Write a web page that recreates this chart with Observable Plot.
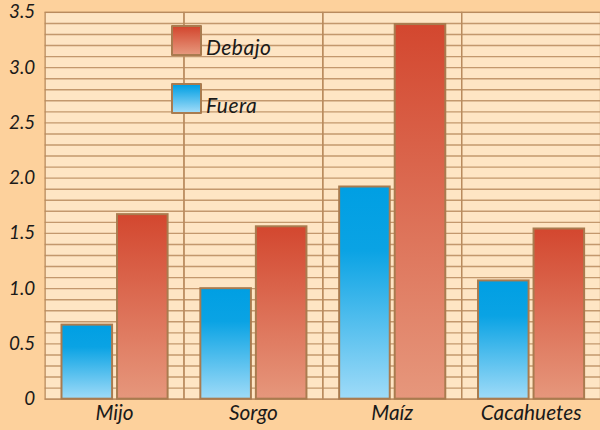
<!DOCTYPE html>
<html>
<head>
<meta charset="utf-8">
<script src="https://cdn.jsdelivr.net/npm/d3@7"></script>
<script src="https://cdn.jsdelivr.net/npm/@observablehq/plot@0.6"></script>
<style>
  html, body { margin: 0; padding: 0; background: #fdd19c; overflow: hidden; width: 600px; height: 430px; }
  #wrap { position: relative; width: 600px; height: 430px; overflow: hidden; }
  #chart svg { display: block; }
  .sw { position: absolute; left: 171px; width: 27px; height: 27px; border: 2px solid #a97b4f; border-radius: 1px; }
  .lt { position: absolute; left: 206px; font: italic 21px Lato, sans-serif; letter-spacing: 0.5px; color: #1a1a1a; line-height: 1; }
</style>
</head>
<body>
<div id="wrap">
  <div id="chart"></div>
  <div class="sw" style="top:25px;background:linear-gradient(#d3472f,#e6977c);"></div>
  <div class="lt" style="top:36px;">Debajo</div>
  <div class="sw" style="top:83px;background:linear-gradient(#009fe3,#9fdbf8);"></div>
  <div class="lt" style="top:94px;">Fuera</div>
</div>
<script>
const categories = ["Mijo", "Sorgo", "Maíz", "Cacahuetes"];
const series = ["Fuera", "Debajo"];
const fuera = [0.67, 1.0, 1.92, 1.07];
const debajo = [1.67, 1.56, 3.39, 1.54];
const yTicks = [0, 0.5, 1.0, 1.5, 2.0, 2.5, 3.0, 3.5];
const gridLines = d3.range(36).map(i => i / 10);

const data = [];
categories.forEach((c, i) => {
  data.push({cat: c, series: "Fuera", value: fuera[i]});
  data.push({cat: c, series: "Debajo", value: debajo[i]});
});

const chart = Plot.plot({
  width: 605,
  height: 430,
  marginLeft: 45,
  marginRight: 0,
  marginTop: 12,
  marginBottom: 28,
  style: {background: "transparent", fontFamily: "Lato, sans-serif", fontStyle: "italic", color: "#1a1a1a"},
  fx: {domain: categories, padding: 0, label: null},
  x: {domain: series, paddingInner: 0.09, paddingOuter: 0.29, axis: null},
  y: {domain: [0, 3.5], label: null},
  color: {domain: series, range: ["url(#gBlue)", "url(#gRed)"]},
  marks: [
    Plot.frame({fill: "#fee5c4", stroke: "none"}),
    Plot.ruleY(gridLines, {stroke: "#b98b5e", strokeWidth: 1.4, strokeOpacity: 0.85}),
    Plot.frame({stroke: "#b98b5e", strokeWidth: 1.3}),
    Plot.barY(data, {fx: "cat", x: "series", y: "value", fill: "series", stroke: "#a97b4f", strokeWidth: 2}),
    Plot.axisY({ticks: yTicks, tickSize: 0, tickPadding: 10, fontSize: 19, label: null,
      tickFormat: d => d === 0 ? "0" : d.toFixed(1)}),
    Plot.axisFx({anchor: "bottom", tickSize: 0, tickPadding: 6, fontSize: 21, label: null})
  ]
});

d3.select(chart).insert("defs", ":first-child").html(`
  <linearGradient id="gBlue" x1="0" y1="0" x2="0" y2="1">
    <stop offset="0" stop-color="#009fe3"/>
    <stop offset="0.3" stop-color="#0aa3e4"/>
    <stop offset="1" stop-color="#9fdbf8"/>
  </linearGradient>
  <linearGradient id="gRed" x1="0" y1="0" x2="0" y2="1">
    <stop offset="0" stop-color="#d3472f"/>
    <stop offset="1" stop-color="#e6977c"/>
  </linearGradient>`);

document.getElementById("chart").appendChild(chart);
</script>
</body>
</html>
